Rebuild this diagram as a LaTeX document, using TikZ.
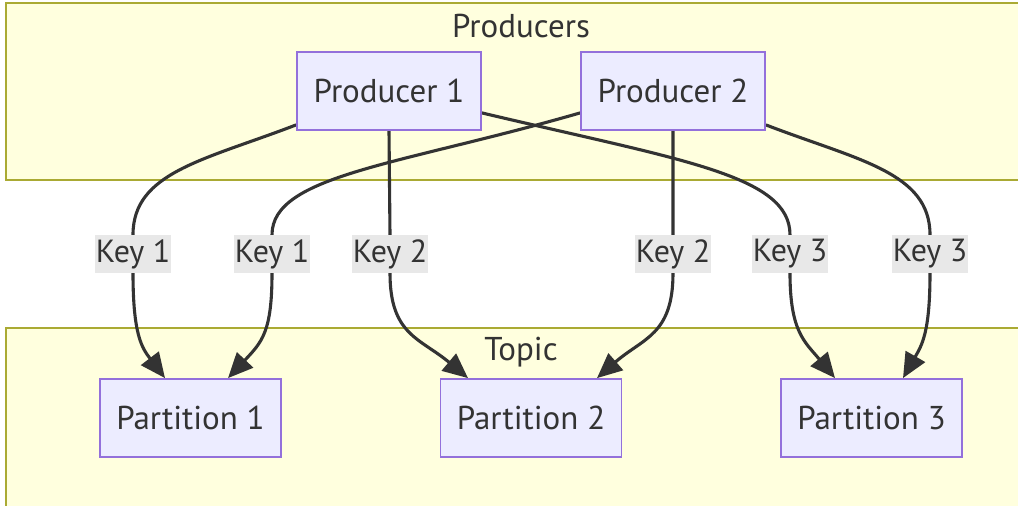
\documentclass[tikz,border=0pt]{standalone}
\usepackage{fontspec}
\setmainfont{PT Sans}
\usetikzlibrary{arrows.meta}
\definecolor{clusterfill}{HTML}{FFFFDE}
\definecolor{clusterline}{HTML}{AAAA33}
\definecolor{nodefill}{HTML}{ECECFF}
\definecolor{nodeline}{HTML}{9370DB}
\definecolor{ink}{HTML}{333333}
\definecolor{labelbg}{HTML}{E8E8E8}
\pgfdeclarelayer{bg}
\pgfdeclarelayer{edgelayer}
\pgfsetlayers{bg,edgelayer,main}
\tikzset{
  cluster/.style={draw=clusterline, fill=clusterfill, line width=1.8pt},
  clustertitle/.style={text=ink, font=\fontsize{33}{38}\selectfont, inner sep=0pt},
  box/.style={draw=nodeline, fill=nodefill, line width=1.8pt, text=ink,
    font=\fontsize{33}{38}\selectfont, minimum height=78pt, inner sep=0pt},
  keylbl/.style={fill=labelbg, text=ink, font=\fontsize{32}{37}\selectfont,
    inner xsep=1pt, inner ysep=0pt, minimum height=38pt},
  edge/.style={draw=ink, line width=3.1pt,
    -{Triangle[length=25pt,width=22pt]}},
}
\begin{document}
\begin{tikzpicture}[x=1pt,y=-1pt]
\useasboundingbox (0,0) rectangle (1018,506);

% groups
\begin{pgfonlayer}{bg}
  \path[cluster] (6,3) rectangle (1040,180);
  \path[cluster] (6,328) rectangle (1040,530);
\end{pgfonlayer}
\node[clustertitle] (gprod) at (521,26) {Producers};
\node[clustertitle] (gtopic) at (521,352) {Topic};

% producers
\node[box, minimum width=184pt] (p1) at (389,91) {Producer 1};
\node[box, minimum width=184pt] (p2) at (673,91) {Producer 2};

% partitions
\node[box, minimum width=181pt] (t1) at (190.5,418) {Partition 1};
\node[box, minimum width=181pt] (t2) at (531,418) {Partition 2};
\node[box, minimum width=181pt] (t3) at (871.5,418) {Partition 3};

% key labels
\node[keylbl] (k1a) at (133,254) {Key 1};
\node[keylbl] (k1b) at (272,254) {Key 1};
\node[keylbl] (k2a) at (390,254) {Key 2};
\node[keylbl] (k2b) at (673,254) {Key 2};
\node[keylbl] (k3a) at (790,254) {Key 3};
\node[keylbl] (k3b) at (930,254) {Key 3};

% routed messages
\begin{pgfonlayer}{edgelayer}
  \draw[edge] ([yshift=6pt]p1.south west) .. controls (205,160) and (133,172) .. (k1a.north)
     -- (k1a.south) .. controls (133,335) and (142,348) .. ([xshift=-25.5pt]t1.north);
  \draw[edge] ([yshift=18pt]p2.south west) .. controls (400,165) and (272,175) .. (k1b.north)
     -- (k1b.south) .. controls (272,332) and (262,342) .. ([xshift=37.5pt]t1.north);
  \draw[edge] (p1.south) -- (k2a.north)
     -- (k2a.south) .. controls (390,335) and (420,338) .. ([xshift=-63pt]t2.north);
  \draw[edge] (p2.south) -- (k2b.north)
     -- (k2b.south) .. controls (673,335) and (643,338) .. ([xshift=66pt]t2.north);
  \draw[edge] ([yshift=18pt]p1.south east) .. controls (680,160) and (790,175) .. (k3a.north)
     -- (k3a.south) .. controls (790,332) and (805,342) .. ([xshift=-36.5pt]t3.north);
  \draw[edge] ([yshift=6pt]p2.south east) .. controls (857,160) and (930,172) .. (k3b.north)
     -- (k3b.south) .. controls (930,332) and (922,345) .. ([xshift=31.5pt]t3.north);
\end{pgfonlayer}
\end{tikzpicture}
\end{document}
